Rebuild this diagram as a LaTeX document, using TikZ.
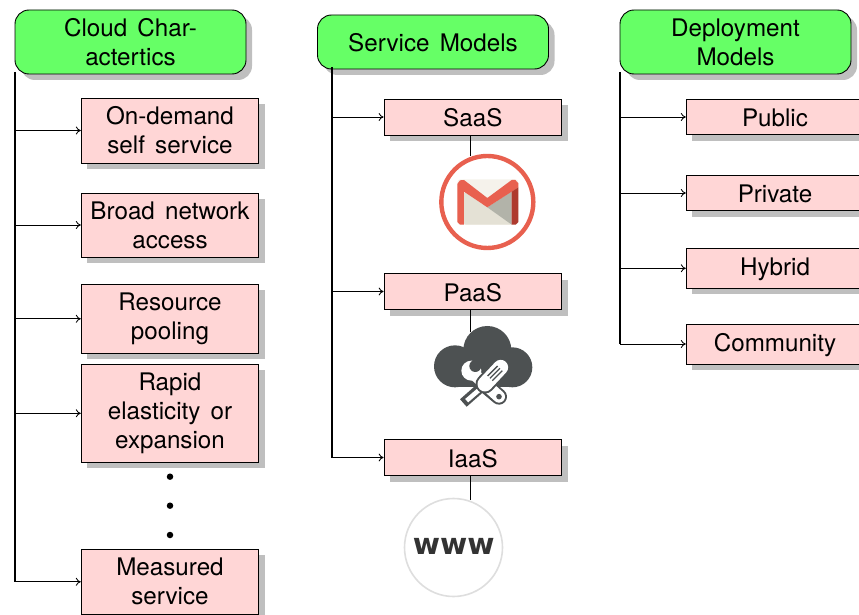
\documentclass[tikz,border=0pt]{standalone}
\usepackage{fontspec}
\setmainfont{TeX Gyre Heros}
\newfontfamily\wwwfont{DejaVu Sans}
\usetikzlibrary{shadows,arrows.meta,calc}
\definecolor{headgreen}{HTML}{66FF66}
\definecolor{itempink}{HTML}{FFD6D6}
\definecolor{shadowgray}{HTML}{BFBFBF}
\definecolor{gred}{HTML}{E8604F}
\definecolor{gdark}{HTML}{AE3A2E}
\definecolor{gcream}{HTML}{F5F2EB}
\definecolor{glow}{HTML}{E4E1D5}
\definecolor{ggray}{HTML}{B2B3A9}
\definecolor{cloudgray}{HTML}{4D5152}
\tikzset{
  boxshadow/.style={drop shadow={shadow xshift=6pt,shadow yshift=-6pt,fill=shadowgray,opacity=1}},
  boxtext/.style={font=\fontsize{24.2}{29}\selectfont,align=center,inner sep=0pt,text=black,execute at begin node={\rule{0pt}{19.6pt}}},
  headbox/.style={boxtext,draw=black,line width=0.9pt,fill=headgreen,rounded corners=14pt,boxshadow,minimum width=231pt},
  itembox/.style={boxtext,draw=black,line width=0.9pt,fill=itempink,boxshadow,minimum width=177.4pt},
  trunk/.style={line width=1.15pt,draw=black},
  branch/.style={line width=0.85pt,draw=black,-{To[length=5pt,width=8pt]}},
  link/.style={line width=0.9pt,draw=black},
  dotmark/.style={circle,fill=black,inner sep=0pt,minimum size=6.5pt}
}
\begin{document}
\begin{tikzpicture}[x=1pt,y=-1pt]
\useasboundingbox (0,0) rectangle (859,615);
% headers
\node[headbox,minimum height=64pt] (hc) at (130.5,42) {Cloud\hspace{3.5pt} Char-\\actertics};
\node[headbox,minimum height=54pt] (hs) at (433,42) {Service\hspace{3.5pt} Models};
\node[headbox,minimum height=64pt] (hd) at (735.5,42) {Deployment\\Models};
% left column
\node[itembox,minimum height=65pt] (a1) at (170,130.5) {On-demand\\self\hspace{3.5pt} service};
\node[itembox,minimum height=64pt] (a2) at (170,225) {Broad\hspace{3.5pt} network\\access};
\node[itembox,minimum height=69pt] (a3) at (170,318.8) {Resource\\pooling};
\node[itembox,minimum height=98pt] (a4) at (170,413.3) {Rapid\\elasticity\hspace{3.5pt} or\\expansion};
\node[itembox,minimum height=65pt] (a5) at (170,581.8) {Measured\\service};
\node[dotmark] (d1) at (170,476.7) {};
\node[dotmark] (d2) at (170,505.7) {};
\node[dotmark] (d3) at (170,535) {};
% middle column
\node[itembox,minimum height=36pt] (b1) at (472.8,117) {SaaS};
\node[itembox,minimum height=36pt] (b2) at (472.8,291.5) {PaaS};
\node[itembox,minimum height=36pt] (b3) at (472.8,457.5) {IaaS};
% right column
\node[itembox,minimum height=35.4pt] (c1) at (775,117) {Public};
\node[itembox,minimum height=35.4pt] (c2) at (775,193) {Private};
\node[itembox,minimum height=40pt] (c3) at (775,268.3) {Hybrid};
\node[itembox,minimum height=40pt] (c4) at (775,344) {Community};
% trunks
\coordinate (ta) at (15,72);
\coordinate (tae) at (15,581.8);
\coordinate (tb) at (332,67);
\coordinate (tbe) at (332,457.5);
\coordinate (tc) at (620,72);
\coordinate (tce) at (620,344);
\draw[trunk] (ta) -- (tae);
\draw[trunk] (tb) -- (tbe);
\draw[trunk] (tc) -- (tce);
\foreach \n in {a1,a2,a3,a4,a5} \draw[branch] (ta |- \n.west) -- (\n.west);
\foreach \n in {b1,b2,b3} \draw[branch] (tb |- \n.west) -- (\n.west);
\foreach \n in {c1,c2,c3,c4} \draw[branch] (tc |- \n.west) -- (\n.west);
% gmail icon
\begin{scope}[shift={(400,130)},x=0.3333pt,y=-0.3333pt]
  \fill[gcream,rounded corners=3pt] (172,148) rectangle (355,284);
  \fill[glow,rounded corners=2pt] (192,185) -- (262,232) -- (335,284) -- (192,284) -- cycle;
  \fill[ggray] (262,232) -- (335,184) -- (335,284) -- cycle;
  \fill[gred] (172,162) -- (180,151) -- (192,150) -- (262,204) -- (335,150) -- (346,150) -- (355,160) -- (355,172) -- (262,232) -- (192,185) -- (192,284) -- (180,284) -- (172,276) -- cycle;
  \fill[gdark] (335,185) -- (355,172) -- (355,276) -- (347,284) -- (335,284) -- cycle;
  \node[circle,draw=gred,line width=4.4pt,minimum size=92pt,inner sep=0pt] (gm) at (262,216) {};
\end{scope}
% cloud icon
\begin{scope}[shift={(400,310)},x=0.3333pt,y=-0.3333pt]
  \fill[cloudgray] (262,120) circle[radius=24pt];
  \fill[cloudgray] (165,169) circle[radius=21pt];
  \fill[cloudgray] (337,172) circle[radius=20pt];
  \fill[cloudgray] (165,140) rectangle (337,232);
  % wrench
  \draw[cloudgray,line width=16pt,line cap=round] (240,212) -- (297,260);
  \draw[white,line width=12pt,line cap=round] (225,195) -- (297,260);
  \fill[cloudgray] (297,260) circle[radius=2.8pt];
  \fill[white] (214,182) circle[radius=10pt];
  \fill[cloudgray] (226,168) circle[radius=6pt];
  % screwdriver
  \draw[cloudgray,line width=10pt] (248,228) -- (190,279);
  \draw[white,line width=4.5pt] (236,241) -- (200,272);
  \draw[cloudgray,line width=19pt,line cap=round] (255,222) -- (302,172);
  \draw[white,line width=15pt,line cap=round] (255,222) -- (302,172);
  \draw[cloudgray,line width=1.3pt] (263,198) -- (293,168) (270,205) -- (300,175) (277,212) -- (307,182);
\end{scope}
% www icon
\node[circle,draw=black!13,line width=1.6pt,fill=white,minimum size=98pt,inner sep=0pt] (ww) at (453.5,547.5) {};
\node[font=\wwwfont\bfseries\fontsize{29.5}{30}\selectfont,text=black!80,inner sep=0pt] (wt) at (453.8,546.7) {www};
% links
\coordinate (lg) at (470,156);
\coordinate (lc) at (470,332);
\coordinate (lw) at (470,500);
\draw[link] (b1.south -| lg) -- (lg);
\draw[link] (b2.south -| lc) -- (lc);
\draw[link] (b3.south -| lw) -- (lw);
\end{tikzpicture}
\end{document}
